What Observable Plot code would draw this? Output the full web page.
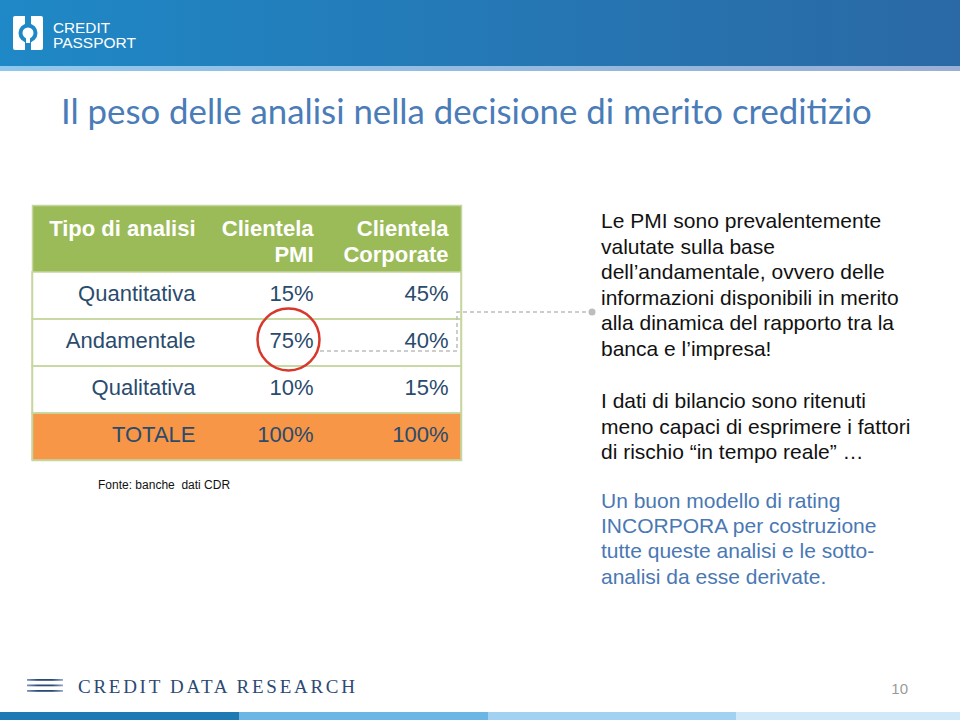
<!DOCTYPE html>
<html>
<head>
<meta charset="utf-8">
<script src="https://cdn.jsdelivr.net/npm/d3@7"></script>
<script src="https://cdn.jsdelivr.net/npm/@observablehq/plot@0.6"></script>
<style>
  html, body { margin: 0; padding: 0; background: #ffffff; }
  #slide { position: relative; width: 960px; height: 720px; overflow: hidden; background: #ffffff;
           font-family: "Liberation Sans", Arial, Helvetica, sans-serif; }
  #bg, #fg { position: absolute; left: 0; top: 0; }
  #fg { pointer-events: none; }
  #table { position: absolute; left: 31px; top: 204px; }
</style>
</head>
<body>
<div id="slide">
  <svg id="bg" width="960" height="720" xmlns="http://www.w3.org/2000/svg">
    <defs>
      <linearGradient id="barGrad" x1="0" x2="1" y1="0" y2="0">
        <stop offset="0" stop-color="#1f88c6"/>
        <stop offset="1" stop-color="#2a69a5"/>
      </linearGradient>
      <linearGradient id="stripGrad" x1="0" x2="1" y1="0" y2="0">
        <stop offset="0" stop-color="#8fc8ec"/>
        <stop offset="1" stop-color="#9aafd6"/>
      </linearGradient>
      <linearGradient id="lineGrad" gradientUnits="userSpaceOnUse" x1="27" x2="63" y1="0" y2="0">
        <stop offset="0" stop-color="#7d97bb"/>
        <stop offset="0.3" stop-color="#2a4a78"/>
        <stop offset="0.7" stop-color="#2a4a78"/>
        <stop offset="1" stop-color="#93a9c8"/>
      </linearGradient>
    </defs>
    <!-- top bar -->
    <rect x="0" y="0" width="960" height="66" fill="url(#barGrad)"/>
    <rect x="0" y="66" width="960" height="5" fill="url(#stripGrad)"/>
    <!-- logo -->
    <rect x="13" y="16" width="30" height="34" rx="2" fill="#ffffff"/>
    <rect x="25" y="16" width="6" height="9" fill="#1f88c6"/>
    <rect x="25" y="41" width="6" height="9" fill="#1f88c6"/>
    <circle cx="28" cy="33" r="7.5" fill="none" stroke="#1f88c6" stroke-width="4"/>
    <rect x="26" y="31" width="4" height="12" fill="#ffffff"/>
    <text id="logo1" x="53" y="32.5" font-size="15.5" fill="#ffffff" font-family="'Liberation Sans', Arial, sans-serif"></text>
    <text id="logo2" x="53" y="48" font-size="15.5" fill="#ffffff" font-family="'Liberation Sans', Arial, sans-serif"></text>
    <!-- title -->
    <text id="title" x="61" y="124" font-size="30" fill="#4a7cb8" font-family="Lato, 'Open Sans', sans-serif"></text>
    <!-- source -->
    <text id="source" x="98" y="489" font-size="12" fill="#111111" xml:space="preserve"></text>
    <!-- right paragraphs -->
    <g id="paras" font-size="21"></g>
    <!-- footer -->
    <rect x="27" y="679" width="36" height="1.8" fill="url(#lineGrad)"/>
    <rect x="27" y="684.5" width="36" height="1.8" fill="url(#lineGrad)"/>
    <rect x="27" y="690" width="36" height="1.8" fill="url(#lineGrad)"/>
    <text id="footerLogo" x="78" y="693" font-size="19" fill="#2c4a74" font-family="'Liberation Serif', 'DejaVu Serif', serif"></text>
    <text id="pageNum" x="908" y="694" font-size="15" fill="#9a9a9a" text-anchor="end"></text>
    <rect x="0" y="712" width="239" height="8" fill="#1f79b2"/>
    <rect x="239" y="712" width="249" height="8" fill="#6cb6e6"/>
    <rect x="488" y="712" width="248" height="8" fill="#a2d1f1"/>
    <rect x="736" y="712" width="224" height="8" fill="#d0e8f8"/>
  </svg>
  <div id="table"></div>
  <svg id="fg" width="960" height="720" xmlns="http://www.w3.org/2000/svg">
    <path d="M320 351 H457 V312 H590" fill="none" stroke="#bdbdbd" stroke-width="1.5" stroke-dasharray="4 3"/>
    <circle cx="592" cy="312" r="3.5" fill="#bdbdbd"/>
  </svg>
</div>
<script>
// ---------- data ----------
const columns = ["Tipo di analisi", "Clientela PMI", "Clientela Corporate"];
const headerLabels = ["Tipo di analisi", "Clientela\nPMI", "Clientela\nCorporate"];
const analysisTypes = ["Quantitativa", "Andamentale", "Qualitativa", "TOTALE"];
const pmiShares = [15, 75, 10, 100];
const corporateShares = [45, 40, 15, 100];
const highlighted = { tipo: "Andamentale", column: "Clientela PMI" };

const titleText = "Il peso delle analisi nella decisione di merito creditizio";
const sourceText = "Fonte: banche  dati CDR";
const para1 = ["Le PMI sono prevalentemente", "valutate sulla base", "dell\u2019andamentale, ovvero delle",
               "informazioni disponibili in merito", "alla dinamica del rapporto tra la", "banca e l\u2019impresa!"];
const para2 = ["I dati di bilancio sono ritenuti", "meno capaci di esprimere i fattori",
               "di rischio \u201cin tempo reale\u201d \u2026"];
const para3 = ["Un buon modello di rating", "INCORPORA per costruzione",
               "tutte queste analisi e le sotto-", "analisi da esse derivate."];
const logoLines = ["CREDIT", "PASSPORT"];
const footerText = "CREDIT DATA RESEARCH";
const pageNumber = "10";

// ---------- table (Observable Plot) ----------
const rows = analysisTypes.map((tipo, i) => ({ tipo, pmi: pmiShares[i], corporate: corporateShares[i] }));
const pct = v => `${v}%`;
const colDx = [91.5, 66.5, 58.5];
const textColor = "#2a4b6d";
const font = "'Liberation Sans', Arial, Helvetica, sans-serif";
const lineColor = "#c5d69f";

const table = Plot.plot({
  width: 431,
  height: 257,
  margin: 1,
  style: { background: "transparent", fontFamily: font, overflow: "visible" },
  x: { type: "band", domain: columns, padding: 0, axis: null },
  y: { type: "band", domain: ["header", ...analysisTypes], range: [21, 256], padding: 0, axis: null },
  marks: [
    Plot.cell(["header"], { y: d => d, fill: "#9bbb59", insetTop: -20 }),
    Plot.cell(rows.filter(d => d.tipo !== "TOTALE"), { y: "tipo", fill: "#ffffff" }),
    Plot.cell(rows.filter(d => d.tipo === "TOTALE"), { y: "tipo", fill: "#f79646" }),
    Plot.cell(rows, { y: "tipo", fill: "none", stroke: lineColor, strokeWidth: 1.5 }),
    Plot.frame({ stroke: lineColor, strokeWidth: 1.5 }),
    ...columns.map((c, i) => Plot.text([headerLabels[i]], {
      x: () => c, y: () => "header", text: d => d,
      textAnchor: "end", lineAnchor: "top", lineHeight: 1.18,
      dx: colDx[i], dy: -31, fill: "#ffffff", fontSize: 22, fontWeight: "bold", fontFamily: font
    })),
    Plot.text(rows, { x: () => columns[0], y: "tipo", text: "tipo", textAnchor: "end",
      dx: colDx[0], dy: -2, fill: textColor, fontSize: 22, fontFamily: font }),
    Plot.text(rows, { x: () => columns[1], y: "tipo", text: d => pct(d.pmi), textAnchor: "end",
      dx: colDx[1], dy: -2, fill: textColor, fontSize: 22, fontFamily: font }),
    Plot.text(rows, { x: () => columns[2], y: "tipo", text: d => pct(d.corporate), textAnchor: "end",
      dx: colDx[2], dy: -2, fill: textColor, fontSize: 22, fontFamily: font }),
    Plot.dot([highlighted], { x: "column", y: "tipo", r: 31, fill: "none",
      stroke: "#d8382c", strokeWidth: 2.5, dx: 41.5, dy: -3.5 })
  ]
});
document.getElementById("table").appendChild(table);

// ---------- slide texts ----------
const ns = "http://www.w3.org/2000/svg";
function setText(id, str) { const el = document.getElementById(id); el.textContent = str; return el; }

const l1 = setText("logo1", logoLines[0]);
l1.setAttribute("textLength", 57); l1.setAttribute("lengthAdjust", "spacingAndGlyphs");
const l2 = setText("logo2", logoLines[1]);
l2.setAttribute("textLength", 83); l2.setAttribute("lengthAdjust", "spacingAndGlyphs");

const title = setText("title", titleText);
const tl = title.getComputedTextLength();
if (tl > 0) title.setAttribute("font-size", (30 * 811 / tl).toFixed(2));

setText("source", sourceText);

const fl = setText("footerLogo", footerText);
fl.setAttribute("textLength", 277); fl.setAttribute("lengthAdjust", "spacing");
setText("pageNum", pageNumber);

const paras = document.getElementById("paras");
function addPara(lines, y0, step, color) {
  lines.forEach((s, i) => {
    const t = document.createElementNS(ns, "text");
    t.setAttribute("x", 601);
    t.setAttribute("y", y0 + i * step);
    t.setAttribute("fill", color);
    t.textContent = s;
    paras.appendChild(t);
  });
}
addPara(para1, 228, 25.5, "#111111");
addPara(para2, 408, 25.5, "#111111");
addPara(para3, 508, 25.2, "#4a78b4");
</script>
</body>
</html>
